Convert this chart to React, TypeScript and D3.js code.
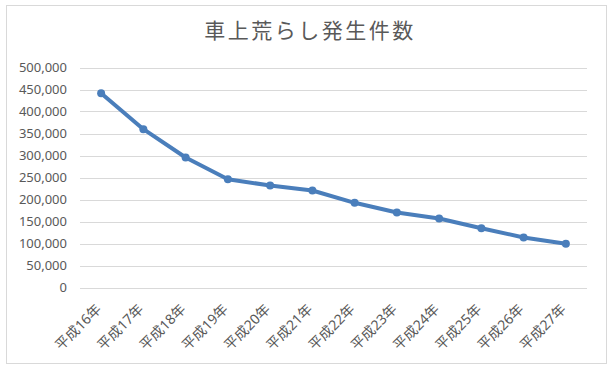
import React from "react"
import * as d3 from "d3"

// Data
const categories = [
  "平成16年", "平成17年", "平成18年", "平成19年", "平成20年", "平成21年",
  "平成22年", "平成23年", "平成24年", "平成25年", "平成26年", "平成27年"
]
const counts = [
  441600, 359800, 295400, 246100, 231800, 220400,
  192500, 170400, 156800, 134800, 113600, 99300
]
const yTicks = [0, 50000, 100000, 150000, 200000, 250000, 300000, 350000, 400000, 450000, 500000]
const title = "車上荒らし発生件数"

const App = () => {
  // Dimensions
  const totalW = 614
  const totalH = 372
  const plot = { left: 80, right: 587, top: 67.5, bottom: 287.5 }

  // Scales
  const xScale = d3
    .scaleBand()
    .domain(categories)
    .range([plot.left, plot.right])
  const yScale = d3
    .scaleLinear()
    .domain([0, 500000])
    .range([plot.bottom, plot.top])

  const cx = (c: string) => (xScale(c) as number) + xScale.bandwidth() / 2
  const pts = categories.map((c, i) => [cx(c), yScale(counts[i])] as [number, number])
  const line = d3.line()(pts) as string
  const fmt = d3.format(",")

  const textColor = "#595959"
  const blue = "#4a7ebb"
  const font = "'Noto Sans', 'Noto Sans CJK JP', sans-serif"

  return (
    <svg
      width={totalW}
      height={totalH}
      style={{ position: "absolute", left: 0, top: 0, background: "#fff" }}
      fontFamily={font}
    >
      <rect x={6.5} y={5.5} width={600} height={358} fill="#fff" stroke="#d9d9d9" />
      <text
        x={310}
        y={38}
        textAnchor="middle"
        fontSize="21px"
        letterSpacing="2.5"
        fill={textColor}
        fontFamily="'Noto Sans CJK JP', sans-serif"
      >
        {title}
      </text>

      {/* gridlines + y labels */}
      {yTicks.map((t) => (
        <g key={`y-${t}`}>
          <line
            x1={plot.left}
            x2={plot.right}
            y1={Math.round(yScale(t)) + 0.5}
            y2={Math.round(yScale(t)) + 0.5}
            stroke="#d9d9d9"
          />
          <text
            x={67}
            y={yScale(t) + 4.5}
            textAnchor="end"
            fontSize="13px"
            fill={textColor}
          >
            {fmt(t)}
          </text>
        </g>
      ))}

      {/* x labels */}
      {categories.map((c) => (
        <text
          key={`x-${c}`}
          transform={`translate(${cx(c) + 1}, 310) rotate(-45)`}
          textAnchor="end"
          fontSize="14px"
          fill={textColor}
        >
          {c}
        </text>
      ))}

      <path d={line} fill="none" stroke={blue} strokeWidth={4} strokeLinejoin="round" strokeLinecap="round" />
      {pts.map(([x, y], i) => (
        <circle key={`pt-${i}`} cx={x} cy={y} r={4} fill={blue} />
      ))}
    </svg>
  )
}

export default App
